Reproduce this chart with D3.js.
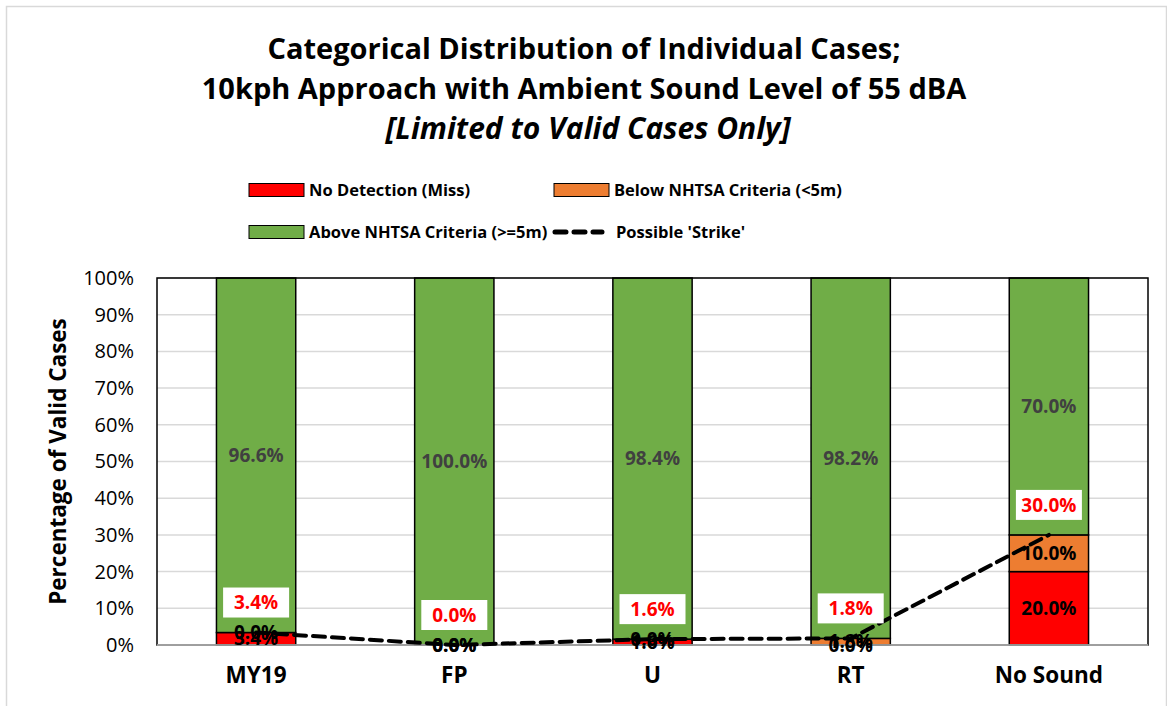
<!DOCTYPE html>
<html><head><meta charset="utf-8">
<script src="https://cdn.jsdelivr.net/npm/d3@7"></script>
<style>body{margin:0;background:#fff;}svg{display:block;font-family:"Open Sans",Lato,sans-serif;}</style>
</head><body><svg id="c" width="1167" height="706"></svg>
<script>
const categories = ["MY19","FP","U","RT","No Sound"];
const noDetection = [3.4, 0.0, 1.6, 0.0, 20.0];
const belowCriteria = [0.0, 0.0, 0.0, 1.8, 10.0];
const aboveCriteria = [96.6, 100.0, 98.4, 98.2, 70.0];
const possibleStrike = [3.4, 0.0, 1.6, 1.8, 30.0];
const yTicks = [0,10,20,30,40,50,60,70,80,90,100];
const seriesNames = ["No Detection (Miss)","Below NHTSA Criteria (<5m)","Above NHTSA Criteria (>=5m)","Possible 'Strike'"];
const colors = ["#ff0000","#ed7d31","#70ad47"];
const FONT = "'Open Sans',Lato,sans-serif";

const svg = d3.select("#c");
svg.append("rect").attr("x",6.5).attr("y",6.5).attr("width",1160).attr("height",705).attr("fill","none").attr("stroke","#d9d9d9").attr("stroke-width",1.5);

const L=157, R=1148, T=278, B=645;
const x = d3.scaleBand().domain(categories).range([L,R]).paddingInner(0.6).paddingOuter(0.3);
const y = d3.scaleLinear().domain([0,100]).range([B,T]);

// title
const title = svg.append("g").attr("text-anchor","middle").attr("font-weight","bold").attr("font-size",29).attr("fill","#000");
title.append("text").attr("x",584).attr("y",59).text("Categorical Distribution of Individual Cases;");
title.append("text").attr("x",584).attr("y",99).text("10kph Approach with Ambient Sound Level of 55 dBA");
title.append("text").attr("x",588).attr("y",139).attr("font-size",30).attr("font-style","italic").text("[Limited to Valid Cases Only]");

// legend
const lg = svg.append("g").attr("font-weight","bold").attr("font-size",16.5);
const legItems = [
  {x:249,y:190,type:"rect",c:colors[0],t:seriesNames[0]},
  {x:554,y:190,type:"rect",c:colors[1],t:seriesNames[1]},
  {x:249,y:232,type:"rect",c:colors[2],t:seriesNames[2]},
  {x:553,y:232,type:"line",t:seriesNames[3]}
];
legItems.forEach(d=>{
  if(d.type==="rect"){
    lg.append("rect").attr("x",d.x).attr("y",d.y-6.5).attr("width",55).attr("height",13).attr("fill",d.c).attr("stroke","#000").attr("stroke-width",1);
  } else {
    lg.append("line").attr("x1",d.x+2).attr("x2",d.x+49).attr("y1",d.y).attr("y2",d.y).attr("stroke","#000").attr("stroke-width",5).attr("stroke-dasharray","11,8").attr("stroke-linecap","round");
  }
  lg.append("text").attr("x",d.type==="rect"?d.x+60:d.x+63).attr("y",d.y).attr("dy","0.35em").text(d.t);
});

// gridlines
svg.append("g").selectAll("line").data(yTicks.filter(t=>t>0)).join("line")
  .attr("x1",L).attr("x2",R).attr("y1",d=>y(d)).attr("y2",d=>y(d)).attr("stroke","#d9d9d9").attr("stroke-width",1.5);

// y axis
const yAxis = svg.append("g").attr("transform",`translate(${L},0)`)
  .call(d3.axisLeft(y).tickValues(yTicks).tickFormat(d=>d+"%").tickSize(0).tickPadding(23));
yAxis.select(".domain").remove();
yAxis.selectAll("text").attr("font-size",20).attr("fill","#000").attr("font-family",FONT);

svg.append("text").attr("transform",`translate(58,${(T+B)/2}) rotate(-90)`).attr("text-anchor","middle")
  .attr("dy","0.35em").attr("font-weight","bold").attr("font-size",22.5).text("Percentage of Valid Cases");

// stacked bars
const rows = categories.map((c,i)=>({cat:c, nd:noDetection[i], bc:belowCriteria[i], ac:aboveCriteria[i]}));
const stack = d3.stack().keys(["nd","bc","ac"])(rows);
const gb = svg.append("g");
stack.forEach((layer,li)=>{
  gb.append("g").selectAll("rect").data(layer).join("rect")
    .attr("x",d=>x(d.data.cat)).attr("width",x.bandwidth())
    .attr("y",d=>y(d[1])).attr("height",d=>y(d[0])-y(d[1]))
    .attr("fill",colors[li]).attr("stroke","#000").attr("stroke-width",1.5);
});

// plot border
svg.append("rect").attr("x",L).attr("y",T).attr("width",R-L).attr("height",B-T).attr("fill","none").attr("stroke","#000").attr("stroke-width",1.5);
svg.append("line").attr("x1",L).attr("x2",R).attr("y1",B).attr("y2",B).attr("stroke","#bfbfbf").attr("stroke-width",1.5);

// x axis
const xAxis = svg.append("g").attr("transform",`translate(0,${B})`).call(d3.axisBottom(x).tickSize(0).tickPadding(22));
xAxis.select(".domain").remove();
xAxis.selectAll("text").attr("font-size",22.5).attr("font-weight","bold").attr("fill","#000").attr("font-family",FONT);

// segment labels
const gl = svg.append("g").attr("text-anchor","middle").attr("font-weight","bold").attr("font-size",19);
stack.forEach((layer,li)=>{
  gl.append("g").selectAll("text").data(layer).join("text")
    .attr("x",d=>x(d.data.cat)+x.bandwidth()/2)
    .attr("y",d=>y((d[0]+d[1])/2)).attr("dy","0.35em")
    .attr("fill",li===2?"#404040":"#000")
    .text(d=>(d[1]-d[0]).toFixed(1)+"%");
});

// strike line
const line = d3.line().x((d,i)=>x(categories[i])+x.bandwidth()/2).y(d=>y(d));
svg.append("path").datum(possibleStrike).attr("d",line).attr("fill","none").attr("stroke","#000")
  .attr("stroke-width",4).attr("stroke-dasharray","12,7").attr("stroke-linecap","round");

// strike labels
const gs = svg.append("g");
possibleStrike.forEach((v,i)=>{
  const cx = x(categories[i])+x.bandwidth()/2, cy = y(v)-30;
  gs.append("rect").attr("x",cx-33).attr("y",cy-15).attr("width",66).attr("height",30).attr("fill","#fff");
  gs.append("text").attr("x",cx).attr("y",cy).attr("dy","0.35em").attr("text-anchor","middle")
    .attr("font-weight","bold").attr("font-size",19).attr("fill","#ff0000").text(v.toFixed(1)+"%");
});
</script></body></html>
